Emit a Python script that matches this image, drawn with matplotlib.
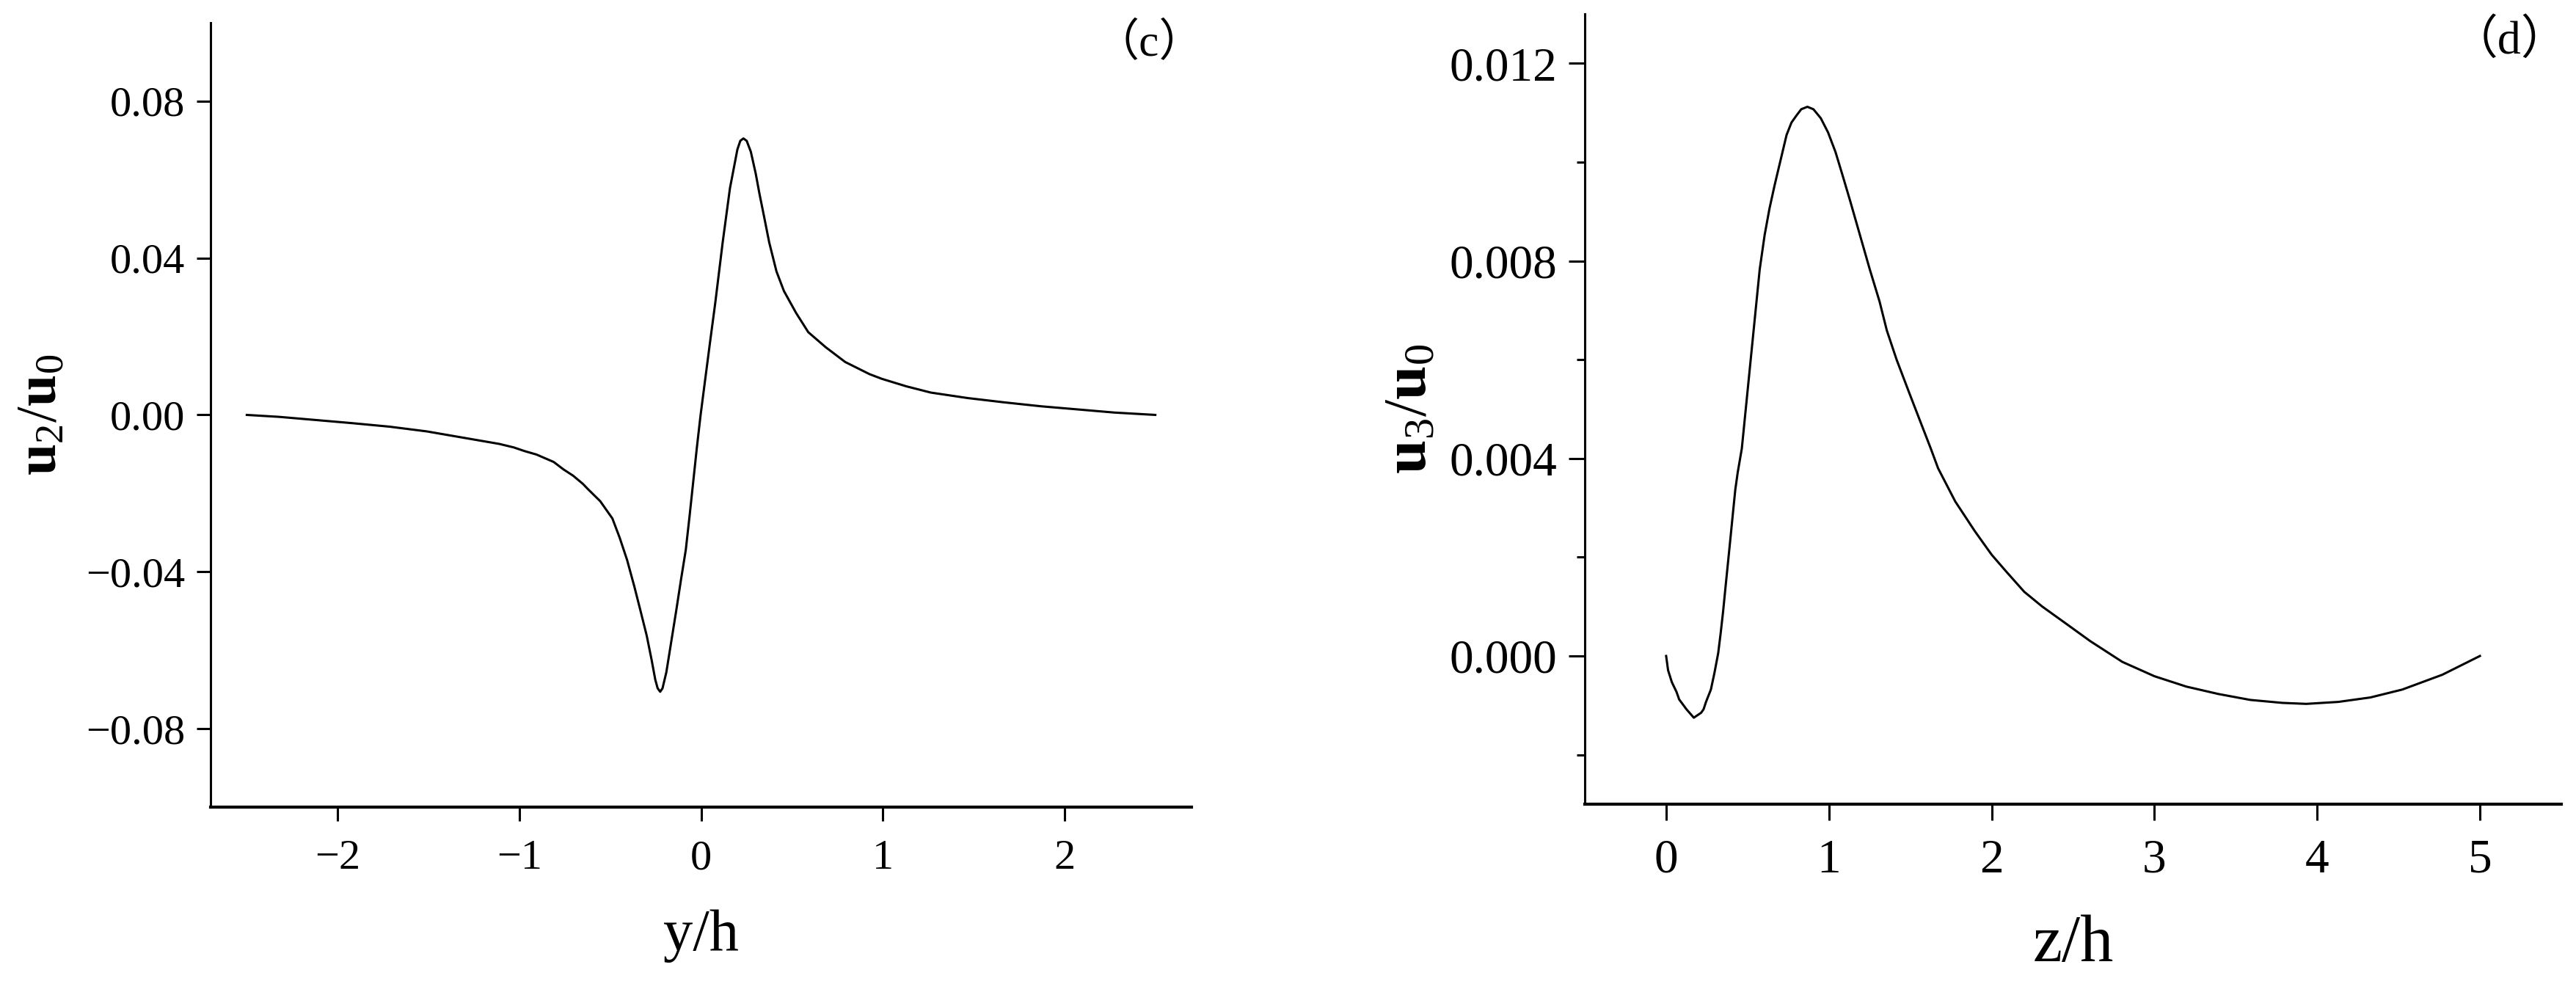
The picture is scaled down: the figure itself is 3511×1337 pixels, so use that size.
import matplotlib
matplotlib.use("Agg")
import matplotlib.pyplot as plt
from matplotlib.ticker import FuncFormatter, FixedLocator

plt.rcParams['font.family'] = ['Liberation Serif', 'Noto Sans CJK SC']
plt.rcParams['mathtext.fontset'] = 'custom'
plt.rcParams['mathtext.rm'] = 'Liberation Serif'
plt.rcParams['mathtext.bf'] = 'Liberation Serif:bold'
plt.rcParams['mathtext.it'] = 'Liberation Serif:italic'

# ---- panel (c) data ----
y_c = [-2.500, -2.321, -1.920, -1.714, -1.510, -1.310, -1.110, -1.030, -0.973, -0.906,
       -0.811, -0.757, -0.704, -0.650, -0.623, -0.555, -0.488, -0.448, -0.407, -0.367,
       -0.333, -0.299, -0.272, -0.252, -0.239, -0.225, -0.212, -0.191, -0.165, -0.137,
       -0.110, -0.084, -0.063, -0.043, -0.023, -0.003, 0.017, 0.051, 0.078, 0.119,
       0.159, 0.200, 0.216, 0.233, 0.251, 0.274, 0.301, 0.321, 0.348, 0.375,
       0.415, 0.456, 0.523, 0.590, 0.685, 0.793, 0.927, 0.995, 1.129, 1.264,
       1.467, 1.669, 1.871, 2.073, 2.275, 2.500]
u2_c = [0.0000, -0.0005, -0.0021, -0.0030, -0.0042, -0.0058, -0.0074, -0.0083, -0.0092, -0.0101,
        -0.0120, -0.0139, -0.0155, -0.0176, -0.0189, -0.0220, -0.0264, -0.0313, -0.0370, -0.0438,
        -0.0500, -0.0563, -0.0625, -0.0675, -0.0697, -0.0706, -0.0697, -0.0656, -0.0581, -0.0500,
        -0.0419, -0.0344, -0.0257, -0.0170, -0.0083, -0.0002, 0.0070, 0.0191, 0.0285, 0.0440,
        0.0578, 0.0677, 0.0699, 0.0705, 0.0699, 0.0671, 0.0615, 0.0565, 0.0503, 0.0440,
        0.0366, 0.0316, 0.0260, 0.0211, 0.0173, 0.0135, 0.0104, 0.0092, 0.0073, 0.0057,
        0.0043, 0.0032, 0.0022, 0.0014, 0.0006, 0.0000]
xticks_c = [-2, -1, 0, 1, 2]
yticks_c = [-0.08, -0.04, 0.00, 0.04, 0.08]

# ---- panel (d) data ----
z_d = [0.000, 0.012, 0.035, 0.064, 0.080, 0.125, 0.170, 0.215, 0.230, 0.245,
       0.275, 0.297, 0.320, 0.335, 0.350, 0.365, 0.380, 0.395, 0.410, 0.425,
       0.440, 0.465, 0.485, 0.515, 0.545, 0.575, 0.605, 0.635, 0.665, 0.680,
       0.740, 0.770, 0.800, 0.830, 0.868, 0.905, 0.950, 0.995, 1.041, 1.086,
       1.131, 1.191, 1.251, 1.311, 1.356, 1.416, 1.491, 1.566, 1.626, 1.671,
       1.776, 1.896, 2.000, 2.092, 2.200, 2.311, 2.459, 2.606, 2.803, 3.000,
       3.196, 3.393, 3.589, 3.786, 3.933, 4.130, 4.327, 4.523, 4.769, 5.000]
u3_d = [0.00000, -0.00029, -0.00053, -0.00073, -0.00088, -0.00108, -0.00125, -0.00115, -0.00108, -0.00093,
        -0.00068, -0.00034, 0.00006, 0.00046, 0.00090, 0.00140, 0.00189, 0.00238, 0.00288, 0.00337,
        0.00372, 0.00420, 0.00486, 0.00585, 0.00684, 0.00783, 0.00852, 0.00906, 0.00951, 0.00972,
        0.01055, 0.01080, 0.01094, 0.01107, 0.01112, 0.01107, 0.01089, 0.01060, 0.01020, 0.00971,
        0.00921, 0.00852, 0.00783, 0.00718, 0.00659, 0.00600, 0.00535, 0.00471, 0.00420, 0.00380,
        0.00313, 0.00253, 0.00205, 0.00170, 0.00130, 0.00100, 0.00065, 0.00030, -0.00012, -0.00041,
        -0.00062, -0.00077, -0.00089, -0.00095, -0.00097, -0.00093, -0.00084, -0.00068, -0.00038, 0.00000]
xticks_d = [0, 1, 2, 3, 4, 5]
yticks_d = [0.000, 0.004, 0.008, 0.012]
yminor_d = [-0.002, 0.002, 0.006, 0.010]


def fmt(nd):
    return FuncFormatter(lambda v, p: ('%.*f' % (nd, v)).replace('-', '\u2212'))


fig = plt.figure(figsize=(35.11, 13.37), dpi=100)
ax1 = fig.add_axes([0.0817, 0.1773, 0.3809, 0.7995])
ax2 = fig.add_axes([0.6152, 0.1803, 0.3791, 0.8055])


def style(ax, fs, tlen, pad_x, pad_y):
    for s in ('top', 'right'):
        ax.spines[s].set_visible(False)
    ax.spines['left'].set_linewidth(2.2)
    ax.spines['bottom'].set_linewidth(3.0)
    ax.tick_params(axis='both', which='major', direction='out', length=tlen,
                   width=2.2, labelsize=fs, color='black')
    ax.tick_params(axis='x', pad=pad_x)
    ax.tick_params(axis='y', pad=pad_y)


ax1.plot(y_c, u2_c, color='black', lw=2.2, solid_joinstyle='round')
ax1.set_xlim(-2.7, 2.7)
ax1.set_ylim(-0.1, 0.1)
ax1.set_xticks(xticks_c)
ax1.set_yticks(yticks_c)
ax1.yaxis.set_major_formatter(fmt(2))
style(ax1, 42, 14, 18, 11)
ax1.set_xlabel('y/h', fontsize=58)
ax1.xaxis.set_label_coords(0.5, -0.13)
ax1.xaxis.label.set_va('top')
ax1.set_ylabel(r'$\mathbf{u}_{2}/\mathbf{u}_{0}$', fontsize=56)
ax1.yaxis.set_label_coords(-0.172, 0.5)
ax1.yaxis.label.set_va('center')
ax1.text(0.9566, 0.973, '（c）', transform=ax1.transAxes, ha='center', va='center',
         fontsize=44, family=['Liberation Serif', 'Noto Sans CJK SC'])

ax2.plot(z_d, u3_d, color='black', lw=2.2, solid_joinstyle='round')
ax2.set_xlim(-0.5, 5.5)
ax2.set_ylim(-0.003, 0.013)
ax2.set_xticks(xticks_d)
ax2.set_yticks(yticks_d)
ax2.yaxis.set_minor_locator(FixedLocator(yminor_d))
ax2.yaxis.set_major_formatter(fmt(3))
style(ax2, 47, 16, 18, 11)
ax2.tick_params(axis='y', which='minor', direction='out', length=8, width=2.2)
ax2.set_xlabel('z/h', fontsize=65)
ax2.xaxis.set_label_coords(0.5, -0.14)
ax2.xaxis.label.set_va('top')
ax2.set_ylabel(r'$\mathbf{u}_{3}/\mathbf{u}_{0}$', fontsize=60)
ax2.yaxis.set_label_coords(-0.178, 0.5)
ax2.yaxis.label.set_va('center')
ax2.text(0.9467, 0.9656, '（d）', transform=ax2.transAxes, ha='center', va='center',
         fontsize=46, family=['Liberation Serif', 'Noto Sans CJK SC'])

fig.savefig('out.png', dpi=100)
